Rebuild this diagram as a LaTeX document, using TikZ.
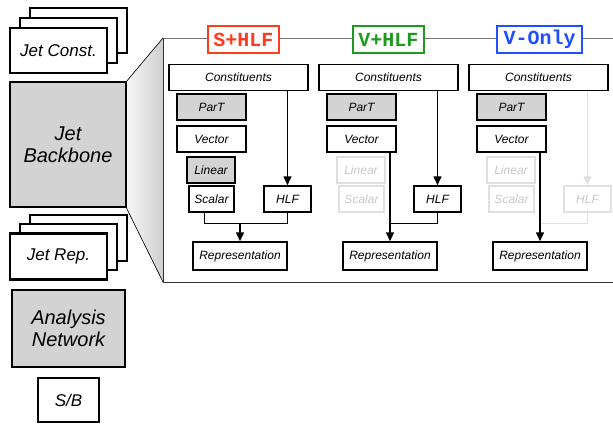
\documentclass[tikz,border=0pt]{standalone}
\usepackage{fontspec}
\setmainfont{Liberation Sans}
\newfontfamily\titlefont{Liberation Mono}
\usetikzlibrary{calc,arrows.meta}
\definecolor{boxgray}{HTML}{D3D3D3}
\definecolor{sred}{HTML}{FF3B1F}
\definecolor{vgreen}{HTML}{1E9B1E}
\definecolor{vblue}{HTML}{1F4FFF}

\begin{document}
\begin{tikzpicture}[x=1pt,y=-1pt,
  big/.style={draw,line width=2.6pt,inner sep=0pt,align=center,font=\fontsize{17}{19}\selectfont\itshape},
  bigger/.style={big,fill=boxgray,font=\fontsize{20}{22}\selectfont\itshape},
  small/.style={draw,line width=1.5pt,minimum height=26pt,inner sep=0pt,font=\fontsize{12}{14}\selectfont\itshape},
  faded/.style={small,draw=black!12,text=black!22},
  title/.style={draw,line width=1.6pt,fill=white,minimum width=71pt,minimum height=27pt,inner sep=0pt,font=\titlefont\bfseries\fontsize{20}{22}\selectfont},
  link/.style={line width=1.5pt},
  arr/.style={link,-{Triangle[length=9pt,width=8pt]}}]
\useasboundingbox (0,0) rectangle (613,424);

%zoom wedge
\coordinate (bbne) at (126,82);
\coordinate (bbse) at (126,207);
\coordinate (pnw) at (163,38);
\coordinate (psw) at (163,282);
\fill[left color=gray!6,right color=gray!38] (bbne) -- (pnw) -- (psw) -- (bbse) -- cycle;
\draw[line width=0.6pt] (bbne) -- (pnw);
\draw[line width=0.6pt] (bbse) -- (psw);

%panel
\draw[black!55,line width=0.9pt] (pnw) -- (615,38);
\draw[black!80,line width=0.9pt] (pnw) -- (psw) -- (615,282);

%left column
\node[big,fill=white,minimum width=97pt,minimum height=45pt] (const3) at (78.5,30.5) {};
\node[big,fill=white,minimum width=97pt,minimum height=45pt] (const2) at (68.5,40.5) {};
\node[big,fill=white,minimum width=97pt,minimum height=45pt] (const1) at (58.5,50.5) {Jet Const.};
\node[bigger,minimum width=116pt,minimum height=125pt] (backbone) at (68,144.5) {Jet\\Backbone};
\node[big,fill=white,minimum width=97pt,minimum height=46pt] (jrep3) at (78.5,238) {};
\node[big,fill=white,minimum width=97pt,minimum height=46pt] (jrep2) at (68.5,247) {};
\node[big,fill=white,minimum width=97pt,minimum height=46pt] (jrep1) at (58.5,256.5) {Jet Rep.};
\node[bigger,minimum width=113pt,minimum height=77pt] (analysis) at (68.5,328.5) {Analysis\\Network};
\node[big,minimum width=61pt,minimum height=44pt] (sb) at (68.5,400) {S/B};

%common boxes of the three variants
\foreach \c/\dx in {a/0,b/150,c/300}{
  \node[small,minimum width=139pt] (cons\c) at (238.5+\dx,77.5) {Constituents};
  \node[small,fill=boxgray,minimum width=69pt] (part\c) at (211.5+\dx,107) {ParT};
  \node[small,minimum width=69pt] (vec\c) at (211.5+\dx,139) {Vector};
  \node[small,minimum width=94pt,minimum height=28pt] (rep\c) at (240+\dx,256) {Representation};
}

%S+HLF
\node[small,fill=boxgray,minimum width=48pt] (lina) at (211,170) {Linear};
\node[small,minimum width=45pt] (scaa) at (211.5,199) {Scalar};
\node[small,minimum width=47pt] (hlfa) at (287.5,199) {HLF};
\coordinate (joina) at ($(repa.north)+(0,-18)$);
\draw[arr] (consa.south -| hlfa) -- (hlfa);
\draw[link] ($(scaa.south)+(-7,0)$) |- (joina -| hlfa.south) -- (hlfa.south);
\draw[arr] (joina) -- (repa);

%V+HLF
\node[faded,minimum width=48pt] (linb) at (361,170) {Linear};
\node[faded,minimum width=45pt] (scab) at (361.5,199) {Scalar};
\node[small,minimum width=47pt] (hlfb) at (437.5,199) {HLF};
\coordinate (joinb) at ($(repb.north)+(0,-18)$);
\draw[arr] (consb.south -| hlfb) -- (hlfb);
\draw[link] (hlfb.south) |- (joinb);
\draw[arr] (vecb.south -| repb) -- (repb);

%V-Only
\node[faded,minimum width=48pt] (linc) at (511,170) {Linear};
\node[faded,minimum width=45pt] (scac) at (511.5,199) {Scalar};
\node[faded,minimum width=47pt] (hlfc) at (587.5,199) {HLF};
\coordinate (joinc) at ($(repc.north)+(0,-18)$);
\draw[arr,black!12] (consc.south -| hlfc) -- (hlfc);
\draw[link,black!12] (hlfc.south) |- (joinc);
\draw[arr] (vecc.south -| repc) -- (repc);

%titles
\node[title,draw=sred,text=sred] (ta) at (243.5,39.5) {S+HLF};
\node[title,draw=vgreen,text=vgreen] (tb) at (388.5,39.5) {V+HLF};
\node[title,draw=vblue,text=vblue,minimum width=85pt] (tc) at (539.5,39.5) {V-Only};
\end{tikzpicture}
\end{document}
